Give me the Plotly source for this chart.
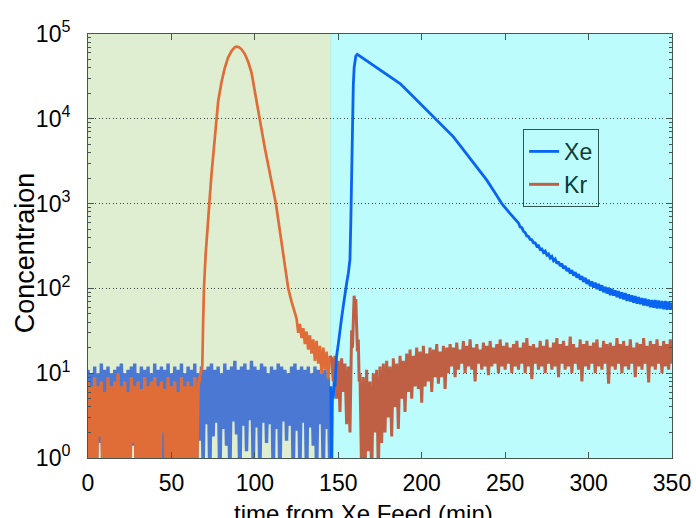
import plotly.graph_objects as go

# ---------------- data ----------------
# Xe, feed-stage noise (t = 0..145 min)
xe_left_t = list(range(0, 146))
xe_left = [11, 0.8, 10, 2, 12, 0.5, 10, 1.5, 13, 0.6,
           11, 2, 12, 0.7, 10, 1.2, 11, 0.5, 12, 2.5,
           13, 0.6, 10, 1.8, 11, 0.5, 12, 1.4, 13, 0.7,
           10, 2.2, 12, 0.5, 11, 1.6, 12, 0.6, 10, 2,
           13, 0.5, 11, 1.3, 12, 0.8, 11, 2.4, 13, 0.6,
           10, 1.7, 12, 0.5, 11, 2, 13, 0.7, 10, 1.5,
           12, 0.5, 11, 2.3, 13, 0.6, 10, 1.6, 12, 0.8,
           11, 2.5, 12, 0.6, 13, 1.8, 11, 2.6, 12, 0.5,
           10, 2.2, 13, 1.4, 11, 0.6, 12, 2.7, 14, 1.9,
           11, 0.5, 12, 2.4, 13, 1.2, 11, 2.8, 14, 0.7,
           12, 2.3, 11, 0.6, 13, 2.6, 12, 1.5, 10, 2.5,
           12, 0.6, 11, 2.2, 13, 0.5, 12, 2.7, 11, 1.6,
           10, 2.4, 12, 0.6, 13, 2.1, 11, 0.7, 12, 2.6,
           11, 0.5, 12, 2.3, 10, 1.4, 12, 0.6, 11, 2.5,
           10, 0.6, 11, 2.2, 9, 0.5]

# Xe rise after the feed switch
xe_rise_t = [145.5, 146, 146.5, 147, 147.5, 148, 148.5, 149, 150, 151, 152, 153,
             154, 155, 156, 157, 157.5, 158, 158.5, 159, 159.5, 160, 160.5, 161.4]
xe_rise = [7, 0.5, 6, 5, 8, 7, 11, 16, 22, 33, 45, 62,
           90, 115, 150, 220, 600, 2500, 11000, 25000, 40000, 51000, 55000, 57500]

# Xe decay
xe_decay_t = [163, 166, 170, 175, 181, 187, 192, 197, 202, 208,
              213, 219, 224, 229, 234, 239, 244, 248, 253, 257]
xe_decay = [54800, 50000, 44300, 38000, 31600, 26100, 20900, 16700, 13200, 10100,
            8040, 6120, 4560, 3400, 2530, 1890, 1330, 1000, 760, 610]

# Xe tail (t = 258..350 min)
xe_tail_t = list(range(258, 351))
xe_tail = [590, 530, 520, 470, 455, 415, 410, 378, 375, 345,
           344, 314, 318, 287, 292, 265, 275, 247, 255, 228,
           238, 212, 222, 196, 207, 183, 196, 172, 184, 160,
           173, 150, 164, 142, 155, 134, 147, 127, 140, 119,
           133, 113, 126, 106, 121, 102, 117, 98, 113, 94,
           109, 90, 104, 87, 102, 83, 99, 82, 95, 79,
           93, 76, 90, 74, 88, 71, 85, 70, 83, 68,
           81, 66, 79, 65, 77, 63, 76, 62, 74, 60,
           73, 59, 73, 58, 72, 58, 71, 57, 71, 56,
           70, 56, 68]

# Kr, feed-stage noise (t = 0..67 min)
kr_noise_t = list(range(0, 68))
kr_noise = [8, 0.4, 7, 0.3, 9, 0.5, 7, 1.8, 8, 0.3,
            6, 0.4, 9, 0.3, 7, 0.6, 8, 0.3, 10, 0.4,
            7, 0.3, 8, 0.5, 6, 0.3, 9, 1.5, 7, 0.4,
            8, 0.3, 6.5, 0.4, 9, 0.3, 7, 0.5, 8, 0.3,
            9, 0.4, 7, 0.3, 8, 2, 6.5, 0.3, 9, 0.4,
            7, 0.3, 8, 0.5, 6, 0.3, 9, 0.4, 7, 0.3,
            8, 0.4, 7, 0.3, 9, 0.5, 7, 9]

# Kr breakthrough peak
kr_peak_t = [67, 68.5, 69, 69.5, 70.5, 71.5, 72.7, 74, 75.5, 76.7, 78, 80, 82, 84, 86,
             88, 89.1, 90.5, 92, 94, 96, 98, 100, 102.5, 104, 106, 108, 110, 112.6,
             114, 116, 118, 120, 122, 124]
kr_peak = [9, 12, 40, 100, 250, 550, 1000, 2200, 5000, 10000, 16000, 27000, 40000, 53000, 63000,
           70000, 71000, 70000, 66000, 58000, 47000, 35000, 21000, 10000, 7100, 4500, 2850, 1800, 1000,
           650, 350, 190, 100, 70, 50]

# Kr tail before the switch (t = 125..145 min)
kr_tail_t = list(range(125, 146))
kr_tail = [44, 30, 38, 26, 34, 22, 31, 19, 28, 17, 25, 14, 24, 13, 21, 10, 20, 11, 18, 8.5, 16]

# Kr after the switch
kr_r1_t = list(range(145, 157))
kr_r1 = [16, 15, 8, 16, 5, 14, 3.5, 15, 6, 13, 2.5, 12]
kr_spike_t = [157, 157.5, 158, 158.5, 159, 159.5, 160, 160.5, 161, 161.5, 162, 162.5]
kr_spike = [2, 10, 32, 20, 70, 82, 60, 75, 35, 18, 25, 8]
kr_r2_t = list(range(163, 351))
kr_r2 = [10, 0.6, 9, 0.5, 11, 1.2, 8, 0.5, 10, 2, 11, 0.6, 12, 1.5, 13,
         2, 14, 3, 12, 1.8, 15, 4, 13, 2.2, 16, 5, 14, 3.5,
         17, 6, 19, 5, 16, 7, 20, 6.5, 18, 4.5, 21, 7, 17, 8, 20, 6, 19, 9, 22, 7.5, 18, 9, 21, 6.5, 20,
         10, 22, 12, 20, 9, 23, 11, 19, 13, 24,
         10, 21, 12, 25, 11, 20, 8, 22, 13, 19,
         11, 23, 12, 21, 9.5, 24, 12, 20, 13, 22,
         10, 25, 12, 21, 11, 23, 13, 20, 10, 22,
         12, 24, 11, 20, 13, 23, 10, 26, 12, 21,
         8.5, 22, 13, 20, 11, 24, 12, 21, 10, 25,
         13, 20, 11, 23, 12, 26, 9, 22, 13, 24,
         11, 21, 12, 27, 10, 22, 13, 20, 11, 25,
         8, 22, 12, 24, 11, 21, 13, 23, 10, 25,
         12, 20, 11, 24, 13, 22, 7.5, 23, 12, 21,
         11, 26, 13, 22, 10, 24, 12, 21, 11, 25,
         13, 20, 9, 23, 12, 22, 11, 26, 13, 21,
         7.8, 24, 12, 22, 11, 25, 13, 21, 10, 24,
         12, 22, 11, 25, 13]

x_ticks = [0, 50, 100, 150, 200, 250, 300, 350]
y_ticks = [1, 10, 100, 1000, 10000, 100000]
y_ticktext = ["10<sup>0</sup>", "10<sup>1</sup>", "10<sup>2</sup>",
              "10<sup>3</sup>", "10<sup>4</sup>", "10<sup>5</sup>"]
switch_time = 145.6

# ---------------- figure ----------------
FONT = "Liberation Sans, Arial, Helvetica, sans-serif"
XE_FEED = "#4a78d2"
XE_DES = "#0a64f2"
KR_FEED = "#e06c37"
KR_DES = "#bf5f43"
FRAME = "#46574f"

kr_pk_t = kr_peak_t + kr_tail_t
kr_pk = kr_peak + kr_tail
kr_right_t = kr_r1_t + kr_spike_t + kr_r2_t
kr_right = kr_r1 + kr_spike + kr_r2
xe_right_t = xe_rise_t + xe_decay_t + xe_tail_t
xe_right = xe_rise + xe_decay + xe_tail

fig = go.Figure()
fig.add_trace(go.Scatter(x=xe_left_t, y=xe_left, mode="lines", name="Xe",
                         line=dict(color=XE_FEED, width=3.4), showlegend=False,
                         hoverinfo="skip"))
fig.add_trace(go.Scatter(x=kr_noise_t, y=kr_noise, mode="lines", name="Kr",
                         line=dict(color=KR_FEED, width=3.4), showlegend=False,
                         hoverinfo="skip"))
fig.add_trace(go.Scatter(x=kr_pk_t, y=kr_pk, mode="lines", name="Kr",
                         line=dict(color=KR_FEED, width=2.7), showlegend=False,
                         hoverinfo="skip"))
fig.add_trace(go.Scatter(x=kr_right_t, y=kr_right, mode="lines", name="Kr",
                         line=dict(color=KR_DES, width=3.0), legendrank=2))
fig.add_trace(go.Scatter(x=xe_right_t, y=xe_right, mode="lines", name="Xe",
                         line=dict(color=XE_DES, width=2.8), legendrank=1))

minor_vals = []
for d in range(0, 5):
    for m in range(2, 10):
        minor_vals.append(m * 10 ** d)

fig.update_layout(
    width=696, height=518, autosize=False,
    margin=dict(l=88, r=24, t=34, b=60, autoexpand=False),
    paper_bgcolor="white", plot_bgcolor="white",
    font=dict(family=FONT, color="black"),
    shapes=[
        dict(type="rect", xref="x", yref="paper", x0=0, x1=switch_time - 0.5, y0=0, y1=1,
             fillcolor="#dfeed1", line=dict(width=0), layer="below"),
        dict(type="rect", xref="x", yref="paper", x0=switch_time - 0.5, x1=switch_time + 0.5,
             y0=0, y1=1, fillcolor="#b9f0d6", line=dict(width=0), layer="below"),
        dict(type="rect", xref="x", yref="paper", x0=switch_time + 0.5, x1=350, y0=0, y1=1,
             fillcolor="#bdfcfc", line=dict(width=0), layer="below"),
    ],
    xaxis=dict(range=[0, 350], tickmode="array", tickvals=x_ticks, automargin=False,
               ticks="inside", ticklen=6, tickcolor=FRAME, tickwidth=1,
               mirror="allticks", showline=True, linecolor=FRAME, linewidth=1,
               showgrid=False, zeroline=False,
               tickfont=dict(size=23, family=FONT, color="black"),
               ticklabelstandoff=4),
    yaxis=dict(type="log", range=[0, 5], tickmode="array", tickvals=y_ticks,
               ticktext=y_ticktext, ticks="inside", ticklen=6, tickcolor=FRAME,
               automargin=False,
               mirror="allticks", showline=True, linecolor=FRAME, linewidth=1,
               showgrid=True, gridcolor="#3e4c45", griddash="1px,2.5px", gridwidth=1,
               zeroline=False,
               minor=dict(tickmode="array", tickvals=minor_vals, ticks="inside",
                          ticklen=3, tickcolor=FRAME, showgrid=False),
               tickfont=dict(size=23, family=FONT, color="black"),
               ticklabelstandoff=12),
    legend=dict(x=0.745, y=0.776, xanchor="left", yanchor="top",
                bgcolor="rgba(0,0,0,0)", bordercolor="#2f5550", borderwidth=1,
                font=dict(size=23, family=FONT, color="#0d3b36"),
                itemwidth=30, tracegroupgap=0),
    annotations=[
        dict(text="time from Xe Feed (min)", xref="paper", yref="paper",
             x=0.472, y=-0.132, xanchor="center", yanchor="middle", showarrow=False,
             font=dict(size=24, family=FONT, color="black")),
        dict(text="Concentraion", xref="paper", yref="paper", textangle=-90,
             x=-0.108, y=0.485, xanchor="center", yanchor="middle", showarrow=False,
             font=dict(size=27, family=FONT, color="black")),
    ],
)

fig.write_html("out.html", config={"displayModeBar": False},
               post_script="document.body.style.margin='0px';document.body.style.overflow='hidden';")
